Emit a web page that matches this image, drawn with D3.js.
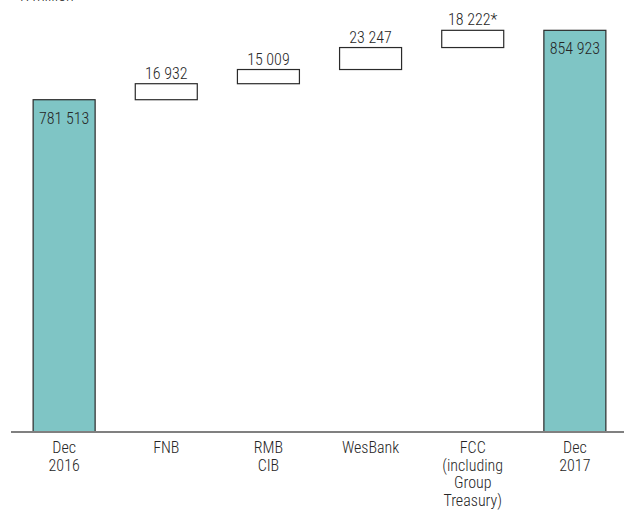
<!DOCTYPE html>
<html>
<head>
<meta charset="utf-8">
<script src="https://cdn.jsdelivr.net/npm/d3@7"></script>
<style>
  body { margin: 0; background: #fff; }
  text { font-family: "Liberation Sans Narrow", "Arial Narrow", "Roboto Condensed", sans-serif; fill: #262626; font-weight: 300; }
</style>
</head>
<body>
<script>
var W = 624, H = 510;

// categories (multi-line labels) and values
var categories = ["Dec 2016", "FNB", "RMB CIB", "WesBank", "FCC", "Dec 2017"];
var catLines = [["Dec", "2016"], ["FNB"], ["RMB", "CIB"], ["WesBank"], ["FCC", "(including", "Group", "Treasury)"], ["Dec", "2017"]];
var totals = [781513, null, null, null, null, 854923];
var changes = [null, 16932, 15009, 23247, 18222, null];
var valueLabels = ["781 513", "16 932", "15 009", "23 247", "18 222*", "854 923"];

var svg = d3.select("body").append("svg")
  .attr("width", W)
  .attr("height", H);

var x = d3.scaleBand()
  .domain(categories)
  .range([13, 626])
  .paddingInner(0.393)
  .paddingOuter(0.197);

// truncated value axis
var y = d3.scaleLinear()
  .domain([430000, 887000])
  .range([432, 0]);

// unit title, cut off at the top edge as in the source
svg.append("text")
  .attr("x", 20)
  .attr("y", 1)
  .attr("font-size", 16)
  .attr("fill", "#aaa")
  .text("R million");

// running cumulative for the floating boxes
var running = totals[0];
var steps = categories.map(function(c, i) {
  if (totals[i] != null) {
    return {cat: c, lo: y.domain()[0], hi: totals[i], total: true, label: valueLabels[i]};
  }
  var s = {cat: c, lo: running, hi: running + changes[i], total: false, label: valueLabels[i]};
  running += changes[i];
  return s;
});

svg.selectAll("rect.bar")
  .data(steps)
  .enter().append("rect")
  .attr("class", "bar")
  .attr("x", function(d) { return x(d.cat); })
  .attr("y", function(d) { return y(d.hi); })
  .attr("width", x.bandwidth())
  .attr("height", function(d) { return y(d.lo) - y(d.hi); })
  .attr("fill", function(d) { return d.total ? "#7fc5c5" : "#fff"; })
  .attr("stroke", "#2a2a2a")
  .attr("stroke-width", 1.2);

svg.selectAll("text.val")
  .data(steps)
  .enter().append("text")
  .attr("class", "val")
  .attr("x", function(d) { return x(d.cat) + x.bandwidth() / 2; })
  .attr("y", function(d) { return d.total ? y(d.hi) + 24 : y(d.hi) - 5; })
  .attr("text-anchor", "middle")
  .attr("font-size", 16)
  .text(function(d) { return d.label; });

// baseline
svg.append("line")
  .attr("x1", 11)
  .attr("x2", W)
  .attr("y1", y(y.domain()[0]))
  .attr("y2", y(y.domain()[0]))
  .attr("stroke", "#808080")
  .attr("stroke-width", 2);

// category labels
var labels = svg.selectAll("text.cat")
  .data(categories)
  .enter().append("text")
  .attr("class", "cat")
  .attr("text-anchor", "middle")
  .attr("font-size", 16)
  .attr("y", 453);

labels.selectAll("tspan")
  .data(function(d, i) { return catLines[i].map(function(t) { return {t: t, c: d}; }); })
  .enter().append("tspan")
  .attr("x", function(d) { return x(d.c) + x.bandwidth() / 2; })
  .attr("dy", function(d, i) { return i === 0 ? 0 : 17.6; })
  .text(function(d) { return d.t; });
</script>
</body>
</html>
